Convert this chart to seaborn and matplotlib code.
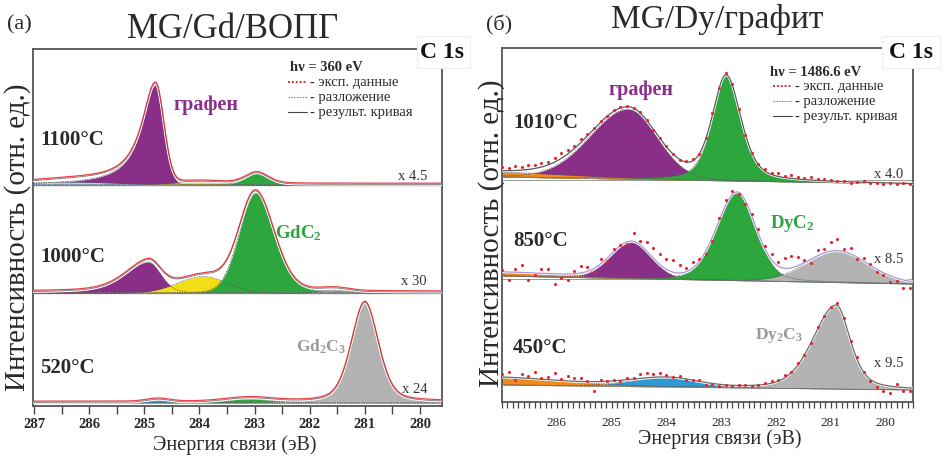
import numpy as np
import pandas as pd
import matplotlib
matplotlib.use("Agg")
import matplotlib.pyplot as plt
from matplotlib.ticker import MultipleLocator, FixedLocator
from matplotlib.patches import Rectangle
from matplotlib.lines import Line2D
import seaborn as sns

# ------------------------------------------------------------------ data
titles = ["MG/Gd/ВОПГ", "MG/Dy/графит"]
panel_tags = ["(a)", "(б)"]
photon = ["h\u03bd = 360 eV", "h\u03bd = 1486.6 eV"]
legend_labels = ["- эксп. данные", "- разложение", "- результ. кривая"]
y_label = "Интенсивность (отн. ед.)"
x_label = "Энергия связи (эВ)"
a_ticks = [287, 286, 285, 284, 283, 282, 281, 280]
b_ticks = [286, 285, 284, 283, 282, 281, 280]

# panel (a): temperatures and scale factors
a_temps = ["1100°C", "1000°C", "520°C"]
a_scale = ["x 4.5", "x 30", "x 24"]
# fitted components: kind, centre (eV), height, half-width high-BE side,
# half-width low-BE side, Lorentz fraction high side, low side
a1100_kind = ["graphene", "c_light", "interm", "RC2"]
a1100_center = [284.80, 286.30, 284.00, 282.96]
a1100_height = [100.0, 3.0, 3.0, 11.5]
a1100_w_hi = [0.30, 0.90, 0.60, 0.25]
a1100_w_lo = [0.18, 0.90, 0.50, 0.25]
a1100_eta_hi = [1.00, 0.00, 0.00, 0.30]
a1100_eta_lo = [0.00, 0.00, 0.00, 0.30]

a1000_kind = ["graphene", "interm", "RC2", "R2C3"]
a1000_center = [284.93, 283.93, 282.98, 281.55]
a1000_height = [31.0, 16.5, 100.0, 3.0]
a1000_w_hi = [0.50, 0.55, 0.35, 0.30]
a1000_w_lo = [0.27, 0.50, 0.40, 0.30]
a1000_eta_hi = [0.50, 0.00, 0.08, 0.00]
a1000_eta_lo = [0.20, 0.00, 0.20, 0.00]

a520_kind = ["c_blue", "RC2", "R2C3"]
a520_center = [284.75, 283.10, 281.00]
a520_height = [3.0, 4.0, 100.0]
a520_w_hi = [0.25, 0.50, 0.29]
a520_w_lo = [0.25, 0.50, 0.29]
a520_eta_hi = [0.00, 0.00, 0.35]
a520_eta_lo = [0.00, 0.00, 0.35]

# panel (б)
b_temps = ["1010°C", "850°C", "450°C"]
b_scale = ["x 4.0", "x 8.5", "x 9.5"]
b_bg_left = [225.0, 126.0, 17.0]    # linear background at 287.0 eV
b_bg_right = [218.0, 118.0, 12.0]   # linear background at 279.5 eV

b1010_kind = ["graphene", "RC2", "bg"]
b1010_center = [284.70, 282.91, 287.30]
b1010_height = [70.0, 105.0, 5.0]
b1010_w_hi = [0.82, 0.30, 1.80]
b1010_w_lo = [0.62, 0.32, 1.80]
b1010_eta_hi = [0.10, 0.45, 0.00]
b1010_eta_lo = [0.10, 0.45, 0.00]

b850_kind = ["graphene", "RC2", "R2C3", "bg"]
b850_center = [284.64, 282.71, 280.88, 287.30]
b850_height = [36.0, 88.0, 31.0, 4.0]
b850_w_hi = [0.45, 0.44, 0.66, 1.50]
b850_w_lo = [0.42, 0.40, 0.66, 1.50]
b850_eta_hi = [0.10, 0.20, 0.10, 0.00]
b850_eta_lo = [0.10, 0.20, 0.10, 0.00]

b450_kind = ["c_blue", "bg", "R2C3"]
b450_center = [284.00, 287.30, 280.90]
b450_height = [9.0, 8.0, 84.0]
b450_w_hi = [0.80, 1.60, 0.50]
b450_w_lo = [0.65, 1.60, 0.30]
b450_eta_hi = [0.00, 0.00, 0.30]
b450_eta_lo = [0.00, 0.00, 0.50]

# experimental points of panel (б): energies and deviation from the fit
b_dot_energy = [287.00, 286.88, 286.76, 286.64, 286.52, 286.40, 286.28, 286.16, 286.04, 285.92,
                285.80, 285.68, 285.56, 285.44, 285.32, 285.20, 285.08, 284.96, 284.84, 284.72,
                284.60, 284.48, 284.36, 284.24, 284.12, 284.00, 283.88, 283.76, 283.64, 283.52,
                283.40, 283.28, 283.16, 283.04, 282.92, 282.80, 282.68, 282.56, 282.44, 282.32,
                282.20, 282.08, 281.96, 281.84, 281.72, 281.60, 281.48, 281.36, 281.24, 281.12,
                281.00, 280.88, 280.76, 280.64, 280.52, 280.40, 280.28, 280.16, 280.04, 279.92,
                279.80, 279.68, 279.56]
b1010_resid = [4, 3, 4, 3, 4, 3, 4, 3, 4, 5, 4, 3, 3, 2, 1, 1, 0, 1, 1, 1,
               0, 1, 0, -1, 0, 1, 0, -1, 1, 2, 0, 1, 2, 1, 2, 1, 0, -1, 0, 1,
               2, 2, 3, 2, 3, 2, 2, 3, 1, 2, 1, 0, 1, -1, 0, 1, -1, 0, -1, 0,
               -1, 0, -1]
b850_resid = [2, -8, 3, 7, -7, -2, 4, 5, -10, -4, -6, 3, 7, 4, -4, 5, -3, 2, 1, -2,
              8, 4, 9, 10, 11, 10, 12, 8, 4, 6, 2, -3, -4, 3, 5, 4, -2, -3, 2, 5,
              3, 6, 4, 10, 12, 9, 3, -4, 6, 4, 9, 12, 3, 6, -2, 3, 1, -3, -2, -6,
              -3, -8, -7]
b450_resid = [3, 5, -2, 4, 2, 7, 1, 3, 7, 2, 5, 3, 4, 1, -9, 2, 0, 1, -1, 2,
              1, 4, 5, 3, 4, 2, 0, 2, -1, 0, 1, -3, -1, -2, 0, -1, 0, 1, -1, 0,
              1, 2, 1, 3, 1, 2, 0, -1, 2, 0, 1, 2, 1, -1, 2, 0, -2, -4, -6, -7,
              3, -4, -3]

# ------------------------------------------------------------------ style
RED = "#e4262c"
kind_color = {"graphene": "#8a2f88", "c_light": "#9fd3ef", "c_blue": "#2b9ad6",
              "interm": "#f3dd14", "RC2": "#2ea63e", "R2C3": "#b3b3b3", "bg": "#ef8a1d"}
FRAME = "#555555"
TXT = "#2a2a2a"
SERIF = ["Liberation Serif", "DejaVu Serif"]

sns.set_style("white")
plt.rcParams["font.family"] = SERIF
plt.rcParams["mathtext.fontset"] = "custom"
plt.rcParams["mathtext.rm"] = "Liberation Serif"
plt.rcParams["mathtext.bf"] = "Liberation Serif:bold"
plt.rcParams["mathtext.it"] = "Liberation Serif:italic"

W, H = 948, 458
fig = plt.figure(figsize=(W / 100, H / 100), dpi=100)


def fx(px):
    return px / W


def fy(py):
    return 1 - py / H


def peak(x, c, h, w_hi, w_lo, e_hi, e_lo):
    d = x - c
    hi = d >= 0
    w = np.where(hi, w_hi, w_lo)
    e = np.where(hi, e_hi, e_lo)
    u = (d / w) ** 2
    return h * (e / (1.0 + u) + (1.0 - e) * np.exp(-np.log(2.0) * u))


def components(x, kinds, cen, hei, whi, wlo, ehi, elo):
    return [(k, peak(x, c, h, a, b, p, q)) for k, c, h, a, b, p, q in
            zip(kinds, cen, hei, whi, wlo, ehi, elo)]


xg = np.linspace(287.1, 279.4, 1541)

axA = fig.add_axes([fx(33), fy(406), fx(442) - fx(33), fy(49) - fy(406)])
axB = fig.add_axes([fx(502), fy(402), fx(913) - fx(502), fy(48) - fy(402)])

# ------------------------------------------------------------------ panel (a)
a_base = [221.0, 113.0, 3.0]
a_sets = [
    (a1100_kind, a1100_center, a1100_height, a1100_w_hi, a1100_w_lo, a1100_eta_hi, a1100_eta_lo),
    (a1000_kind, a1000_center, a1000_height, a1000_w_hi, a1000_w_lo, a1000_eta_hi, a1000_eta_lo),
    (a520_kind, a520_center, a520_height, a520_w_hi, a520_w_lo, a520_eta_hi, a520_eta_lo),
]
for base, pars in zip(a_base, a_sets):
    comps = components(xg, *pars)
    total = base + np.sum([c for _, c in comps], axis=0)
    for k, c in comps:
        axA.fill_between(xg, base, base + c, color=kind_color[k], lw=0, zorder=2)
    for k, c in comps:
        axA.plot(xg, base + c, color="#555555", lw=0.5, ls=(0, (2, 1.5)), zorder=3)
    axA.plot(xg, np.full_like(xg, base), color="#888888", lw=0.6, ls=(0, (3, 2)), zorder=3)
    df = pd.DataFrame({"E": xg, "fit": total + 0.6, "exp": total + 1.8})
    sns.lineplot(data=df, x="E", y="fit", ax=axA, color="white", lw=2.0,
                 sort=False, estimator=None, zorder=4)
    sns.lineplot(data=df, x="E", y="fit", ax=axA, color="#777777", lw=0.6,
                 sort=False, estimator=None, zorder=5)
    sns.lineplot(data=df, x="E", y="exp", ax=axA, color=RED, lw=0.9, alpha=0.85,
                 sort=False, estimator=None, zorder=6)

for ysep in [221.0, 113.0]:
    axA.axhline(ysep, color="#666666", lw=0.9, zorder=1)

axA.set_xlim(287.02, 279.6)
axA.set_ylim(0, 357)
axA.set_yticks([])
axA.xaxis.set_major_locator(FixedLocator(a_ticks))
axA.xaxis.set_minor_locator(MultipleLocator(0.5))
axA.set_xticklabels([str(t) for t in a_ticks], fontweight="bold", fontsize=10.5, color=TXT)
axA.tick_params(axis="x", which="both", direction="out", length=6, width=1.0,
                color="#444444", pad=3, bottom=True)
axA.set_xlabel("")
axA.set_ylabel("")

# ------------------------------------------------------------------ panel (б)
b_sets = [
    (b1010_kind, b1010_center, b1010_height, b1010_w_hi, b1010_w_lo, b1010_eta_hi, b1010_eta_lo),
    (b850_kind, b850_center, b850_height, b850_w_hi, b850_w_lo, b850_eta_hi, b850_eta_lo),
    (b450_kind, b450_center, b450_height, b450_w_hi, b450_w_lo, b450_eta_hi, b450_eta_lo),
]
b_resids = [b1010_resid, b850_resid, b450_resid]
b_fit_color = ["#5a5a5a", "#ab94d4", "#6a6a6a"]
xd = np.array(b_dot_energy)
for i, pars in enumerate(b_sets):
    bgl, bgr = b_bg_left[i], b_bg_right[i]

    def bg(x):
        return bgl + (bgr - bgl) * (287.0 - x) / (287.0 - 279.5)

    comps = components(xg, *pars)
    base = bg(xg)
    total = base + np.sum([c for _, c in comps], axis=0)
    for k, c in comps:
        axB.fill_between(xg, base, base + c, color=kind_color[k], lw=0, zorder=2)
    for k, c in comps:
        axB.plot(xg, base + c, color="#555555", lw=0.5, ls=(0, (2, 1.5)), zorder=3)
    axB.plot(xg, base, color="#777777", lw=0.6, ls=(0, (3, 2)), zorder=3)
    df = pd.DataFrame({"E": xg, "fit": total})
    sns.lineplot(data=df, x="E", y="fit", ax=axB, color="white", lw=2.0,
                 sort=False, estimator=None, zorder=4)
    sns.lineplot(data=df, x="E", y="fit", ax=axB, color=b_fit_color[i], lw=0.9,
                 sort=False, estimator=None, zorder=5)
    cd = components(xd, *pars)
    tot_d = bg(xd) + np.sum([c for _, c in cd], axis=0)
    dd = pd.DataFrame({"E": xd, "I": tot_d + np.array(b_resids[i])})
    sns.scatterplot(data=dd, x="E", y="I", ax=axB, color=RED, s=5, linewidth=0,
                    zorder=7, clip_on=True)

for ysep in [222.0, 123.0]:
    axB.axhline(ysep, color="#9a9a9a", lw=0.7, zorder=1)

axB.set_xlim(287.0, 279.5)
axB.set_ylim(0, 354)
axB.set_yticks([])
axB.xaxis.set_major_locator(FixedLocator(b_ticks))
axB.xaxis.set_minor_locator(MultipleLocator(0.1))
axB.set_xticklabels([str(t) for t in b_ticks], fontsize=9.5, color=TXT)
axB.tick_params(axis="x", which="both", direction="out", length=4, width=0.9,
                color="#444444", pad=7, bottom=True)
axB.set_xlabel("")
axB.set_ylabel("")

for ax in (axA, axB):
    for s in ax.spines.values():
        s.set_visible(True)
        s.set_color(FRAME)
        s.set_linewidth(1.3)

# ------------------------------------------------------------------ texts
fig.text(fx(19), fy(25), panel_tags[0], size=16, ha="center", va="center", color=TXT)
fig.text(fx(233), fy(38), titles[0], size=25, ha="center", va="baseline", color=TXT)
fig.text(fx(499), fy(25), panel_tags[1], size=16, ha="center", va="center", color=TXT)
fig.text(fx(717), fy(28), titles[1], size=24, ha="center", va="baseline", color=TXT)

for (x0, x1, yc) in [(417, 470, 52), (882, 940, 52)]:
    fig.patches.append(Rectangle((fx(x0), fy(68)), fx(x1) - fx(x0), fy(36) - fy(68),
                                 transform=fig.transFigure, facecolor="white",
                                 edgecolor="#eeeeee", lw=0.8, zorder=5))
fig.text(fx(442), fy(52), "C 1s", size=17, weight="bold", ha="center", va="center",
         color="#111111", zorder=6)
fig.text(fx(911), fy(52), "C 1s", size=17, weight="bold", ha="center", va="center",
         color="#111111", zorder=6)

# photon energy + legend
for hx, hy, tx, ybase, handle_x0, handle_x1, txt in [
        (290, 71, 310, [86, 101, 116], 288, 307, photon[0]),
        (770, 76, 795, [90, 105, 120], 773, 792, photon[1])]:
    fig.text(fx(hx), fy(hy), txt, size=10.5, weight="bold", va="baseline", color=TXT)
    styles = [dict(color=RED, ls=(0, (1, 1)), lw=1.4),
              dict(color="#888888", ls=(0, (1.5, 1)), lw=0.8),
              dict(color="#444444", ls="-", lw=0.8)]
    for yb, lab, st in zip(ybase, legend_labels, styles):
        fig.text(fx(tx), fy(yb), lab, size=10.5, va="baseline", color=TXT)
        fig.add_artist(Line2D([fx(handle_x0), fx(handle_x1)], [fy(yb - 4), fy(yb - 4)],
                              transform=fig.transFigure, **st))

# temperatures
for lab, yb in zip(a_temps, [145, 262, 373]):
    fig.text(fx(40), fy(yb), lab, size=15, weight="bold", va="baseline", color=TXT)
for lab, yb in zip(b_temps, [128, 246, 353]):
    fig.text(fx(513), fy(yb), lab, size=15, weight="bold", va="baseline", color=TXT)

# scale factors
for lab, yb in zip(a_scale, [180, 285, 393]):
    fig.text(fx(427), fy(yb), lab, size=10.5, ha="right", va="baseline", color="#333333")
for lab, yb in zip(b_scale, [178, 263, 367]):
    fig.text(fx(903), fy(yb), lab, size=10.5, ha="right", va="baseline", color="#333333")

# component names
PTXT, GTXT, GRTXT = "#8b2d8b", "#2aa53a", "#9a9a9a"
fig.text(fx(173), fy(110), "графен", size=14.5, weight="bold", va="baseline", color=PTXT)
fig.text(fx(275), fy(238), r"$\mathbf{GdC_2}$", size=13.5, va="baseline", color=GTXT)
fig.text(fx(296), fy(352), r"$\mathbf{Gd_2C_3}$", size=12.5, va="baseline", color=GRTXT)
fig.text(fx(608), fy(95), "графен", size=14.5, weight="bold", va="baseline", color=PTXT)
fig.text(fx(770), fy(228), r"$\mathbf{DyC_2}$", size=13.5, va="baseline", color=GTXT)
fig.text(fx(755), fy(339), r"$\mathbf{Dy_2C_3}$", size=12.5, va="baseline", color=GRTXT)

# axis titles
fig.text(fx(18), fy(237), y_label, size=21, rotation=90, ha="center", va="center", color=TXT)
fig.text(fx(492), fy(233), y_label, size=21, rotation=90, ha="center", va="center", color=TXT)
fig.text(fx(235), fy(445), x_label, size=14.5, ha="center", va="center", color=TXT)
fig.text(fx(720), fy(439), x_label, size=14.5, ha="center", va="center", color=TXT)

fig.savefig("out.png", dpi=100, facecolor="white")
